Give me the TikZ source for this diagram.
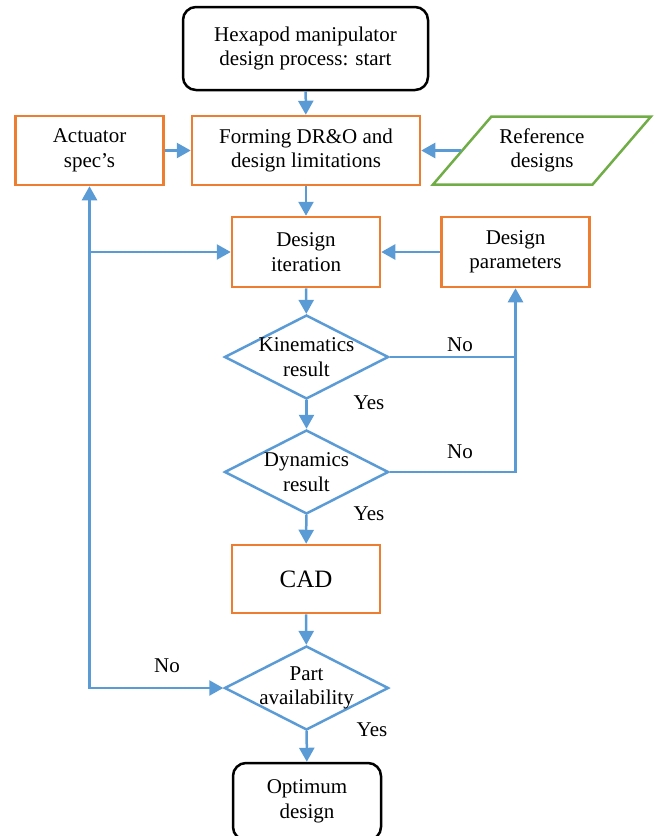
\documentclass[tikz,border=0pt]{standalone}
\usepackage{fontspec}
\setmainfont{Liberation Serif}
\usetikzlibrary{shapes.geometric,arrows.meta}

\definecolor{flowblue}{HTML}{5B9BD5}
\definecolor{boxorange}{HTML}{ED7D31}
\definecolor{iogreen}{HTML}{70AD47}

\tikzset{
  term/.style={draw=black, rounded corners=13pt, line width=2.5pt,
    minimum width=245pt, minimum height=83pt, align=center},
  proc/.style={draw=boxorange, line width=2.5pt,
    minimum width=148pt, minimum height=69pt, align=center},
  iobox/.style={draw=iogreen, line width=2.5pt, trapezium,
    trapezium left angle=60, trapezium right angle=120,
    trapezium stretches=true, minimum width=218pt, minimum height=68pt},
  dec/.style={draw=flowblue, line width=2.5pt, diamond,
    minimum width=164pt, minimum height=84pt, inner sep=0pt},
  txt/.style={align=center},
  lbl/.style={inner sep=1pt},
  flow/.style={draw=flowblue, line width=2.5pt, -{Triangle[length=14pt,width=15pt]}},
  link/.style={draw=flowblue, line width=2.5pt},
}

\begin{document}
\begin{tikzpicture}[x=1pt, y=-1pt, font=\fontsize{21}{24.5}\selectfont]

  \useasboundingbox (0,0) rectangle (657,836);

  % start and input row
  \node[term] (start) at (305.5,48.5) {Hexapod manipulator\\design process: start};
  \node[proc] (act) at (89.5,150.5) {Actuator\\spec’s};
  \node[proc, minimum width=228pt] (form) at (306,150.5) {Forming DR\&O and\\design limitations};
  \node[iobox] (ref) at (542,150.5) {};
  \node[txt] (ref-t) at (542,150.5) {Reference\\designs};

  % design loop
  \node[proc, minimum height=70pt] (iter) at (306,252) {Design\\iteration};
  \node[proc, minimum height=70pt] (par) at (515.5,252) {Design\\parameters};

  % checks
  \node[dec] (kin) at (306.5,357) {};
  \node[txt] (kin-t) at (306.5,357) {Kinematics\\result};
  \node[dec] (dyn) at (306.5,472) {};
  \node[txt] (dyn-t) at (306.5,472) {Dynamics\\result};

  % CAD and final check
  \node[proc, minimum height=68pt, font=\fontsize{25}{29}\selectfont] (cad) at (306,579) {CAD};
  \node[dec] (part) at (306.5,688) {};
  \node[txt] (part-t) at (306.5,688) {Part\\availability};
  \node[term, minimum width=148pt, minimum height=77pt] (opt) at (307,801.5) {Optimum\\design};

  % connectors
  \draw[flow] (start) -- (form);
  \draw[flow] (act) -- (form);
  \draw[flow] (ref) -- (form);
  \draw[flow] (form) -- (iter);
  \draw[flow] (par) -- (iter);
  \draw[flow] (iter) -- (kin);
  \draw[flow] (kin) -- (dyn);
  \draw[flow] (dyn) -- (cad);
  \draw[flow] (cad) -- (part);
  \draw[flow] (part) -- (opt);

  % No branches back to the parameters
  \draw[flow] (kin.east) -| (par.south);
  \draw[link] (dyn.east) -| (par.south |- kin.east);

  % left feedback line
  \coordinate (jn) at (act.south |- iter.west);
  \draw[flow] (jn) -- (act.south);
  \draw[flow] (jn) -- (iter.west);
  \draw[flow] (jn) |- (part.west);

  % labels
  \node[lbl] (no1) at (460,345) {No};
  \node[lbl] (no2) at (460,452) {No};
  \node[lbl] (no3) at (167,666) {No};
  \node[lbl] (yes1) at (369,403) {Yes};
  \node[lbl] (yes2) at (369,514) {Yes};
  \node[lbl] (yes3) at (372,730) {Yes};

\end{tikzpicture}
\end{document}
